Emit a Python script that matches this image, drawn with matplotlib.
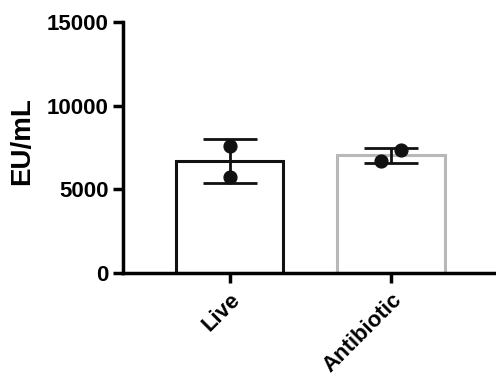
import matplotlib
matplotlib.use("Agg")
import matplotlib.pyplot as plt
import numpy as np

categories = ["Live", "Antibiotic"]
live_points = [7610, 5740]
antibiotic_points = [7350, 6710]
edge_colors = ["#111111", "#b8b8b8"]

plt.rcParams['font.family'] = ['Liberation Sans', 'DejaVu Sans']
plt.rcParams['font.weight'] = 'bold'

fig = plt.figure(figsize=(4.96, 3.78), dpi=100)
ax = fig.add_axes([0.248, 0.278, 0.752, 0.664])

groups = [live_points, antibiotic_points]
x = np.arange(len(categories))
means = [np.mean(g) for g in groups]
sds = [np.std(g, ddof=1) for g in groups]

for i, (m, ec) in enumerate(zip(means, edge_colors)):
    ax.bar(x[i], m, width=0.667, color="white", edgecolor=ec, linewidth=2.2, zorder=2)

ax.errorbar(x, means, yerr=sds, fmt="none", ecolor="#111111", elinewidth=2.0,
            capsize=19.5, capthick=2.0, zorder=3)

jitters = [[0.0, 0.0], [0.06, -0.06]]
for i, g in enumerate(groups):
    ax.scatter(x[i] + np.array(jitters[i]), g, s=85, color="#111111", zorder=4)

ax.set_xlim(-0.66, 1.65)
ax.set_ylim(0, 15000)
ax.set_yticks([0, 5000, 10000, 15000])
ax.set_xticks(x)
ax.set_xticklabels(categories, rotation=45, ha="right", rotation_mode="anchor", fontsize=16, fontweight="bold")
ax.tick_params(axis="y", labelsize=16, width=2.5, length=7)
ax.tick_params(axis="x", width=2.5, length=7, pad=5)
for lab in ax.get_yticklabels():
    lab.set_fontweight("bold")

ax.spines["top"].set_visible(False)
ax.spines["right"].set_visible(False)
ax.spines["left"].set_linewidth(2.5)
ax.spines["bottom"].set_linewidth(2.5)

ax.set_ylabel("EU/mL", fontsize=20, fontweight="bold")
ax.yaxis.set_label_coords(-0.236, 0.525)

fig.savefig("out.png", dpi=100)
